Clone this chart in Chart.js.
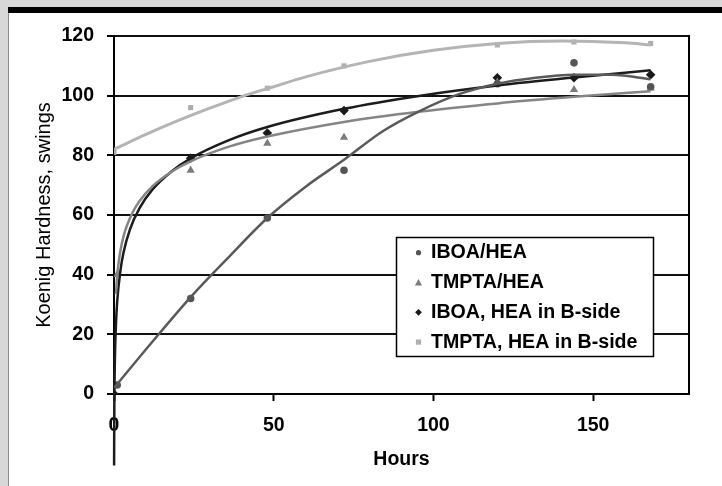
<!DOCTYPE html>
<html><head><meta charset="utf-8">
<script src="https://cdn.jsdelivr.net/npm/chart.js@4/dist/chart.umd.min.js"></script>
<style>html,body{margin:0;padding:0;background:#d8d8d8;overflow:hidden}canvas{display:block}</style>
</head><body>
<canvas id="c" width="722" height="486"></canvas>
<script>
// ---- data ----
const xTicks = [0, 50, 100, 150];
const xTitle = 'Hours';
const yTitle = 'Koenig Hardness, swings';
const seriesLabels = ['IBOA/HEA', 'TMPTA/HEA', 'IBOA, HEA in B-side', 'TMPTA, HEA in B-side'];

// measured points
const iboaHours = [1, 24, 48, 72, 120, 144, 168];
const iboaHardness = [3, 32, 59, 75, 104, 111, 103];
const tmptaHours = [1, 24, 48, 72, 120, 144, 168];
const tmptaHardness = [40, 75, 84, 86, 104.5, 102, 102.5];
const iboaBHours = [0, 24, 48, 72, 120, 144, 168];
const iboaBHardness = [0, 79, 87.5, 95, 106, 106, 107];
const tmptaBHours = [0, 24, 48, 72, 120, 144, 168];
const tmptaBHardness = [81, 96, 102.5, 110, 117, 118, 117.5];

// trend lines, values
const iboaTrendHours = [0, 12, 24, 36, 48, 60, 72, 84, 96, 108, 120, 132, 144, 156, 168];
const iboaTrendHardness = [2, 17.5, 32.5, 46, 59, 69.5, 78.5, 88, 95, 100.5, 104, 106, 107, 107, 105.5];
const tmptaTrendHours = [0.6, 1, 1.5, 2, 3, 4, 6, 8, 12, 18, 24, 36, 48, 72, 96, 120, 144, 168];
const tmptaTrendHardness = [33.5, 39.6, 44.5, 48, 52.9, 56.3, 61.2, 64.7, 69.6, 74.5, 78, 82.9, 86.3, 91.2, 94.7, 97.4, 99.6, 101.5];
const iboaBTrendHours = [0.03, 0.1, 0.3, 0.6, 1, 2, 3, 5, 8, 12, 18, 24, 36, 48, 72, 96, 120, 144, 168];
const iboaBTrendHardness = [-24, -4, 12.5, 23, 31, 41.3, 47.5, 55.2, 62.3, 68.5, 74.6, 79, 85.1, 89.5, 95.6, 100, 103.4, 106.1, 108.5];
const tmptaBTrendHours = [0, 10, 20, 30, 40, 50, 60, 80, 100, 120, 140, 160, 168];
const tmptaBTrendHardness = [82, 87, 91.6, 95.8, 99.7, 103, 106.3, 111.5, 115.2, 117.5, 118.3, 117.7, 117];

// ---- styling ----
const FONT = "'Liberation Sans', Arial, sans-serif";
const colors = ['#555555', '#7c7c7c', '#1a1a1a', '#adadad'];
const shapes = ['circle', 'triangle', 'rectRot', 'rect'];
const radii = [3.8, 4.8, 4.8, 3.6];

const pts = (xs, ys) => xs.map((x, i) => ({x: x, y: ys[i]}));

const markerSets = [
  [iboaHours, iboaHardness], [tmptaHours, tmptaHardness],
  [iboaBHours, iboaBHardness], [tmptaBHours, tmptaBHardness]
].map(([xs, ys], i) => ({
  label: seriesLabels[i],
  data: pts(xs, ys),
  showLine: false,
  pointStyle: shapes[i],
  pointRadius: radii[i],
  pointBackgroundColor: colors[i],
  pointBorderWidth: 0,
  order: 1
}));

const trendSets = [
  [iboaTrendHours, iboaTrendHardness, '#5a5a5a', 2.5, true],
  [tmptaTrendHours, tmptaTrendHardness, '#858585', 2.5, true],
  [iboaBTrendHours, iboaBTrendHardness, '#1c1c1c', 2.5, false],
  [tmptaBTrendHours, tmptaBTrendHardness, '#b4b4b4', 3, true]
].map(([xs, ys, c, w, clip], i) => ({
  label: seriesLabels[i] + ' trend',
  data: pts(xs, ys),
  showLine: true,
  pointRadius: 0,
  borderColor: c,
  borderWidth: w,
  cubicInterpolationMode: 'monotone',
  clip: clip ? undefined : false,
  order: 0
}));

const framePlugin = {
  id: 'frame',
  beforeDraw(chart) {
    const ctx = chart.ctx;
    ctx.save();
    ctx.fillStyle = '#d8d8d8';
    ctx.fillRect(0, 0, chart.width, chart.height);
    ctx.fillStyle = '#ffffff';
    ctx.fillRect(8, 13, chart.width - 8, chart.height - 13);
    ctx.fillStyle = '#000000';
    ctx.fillRect(8, 7, chart.width - 8, 6);
    ctx.fillStyle = '#8a8a8a';
    ctx.fillRect(8, 13, 1, chart.height - 13);
    ctx.restore();
  },
  beforeDatasetsDraw(chart) {
    const a = chart.chartArea, ctx = chart.ctx;
    ctx.save();
    ctx.strokeStyle = '#000';
    ctx.lineWidth = 2;
    ctx.beginPath();
    ctx.moveTo(Math.round(a.right), a.top - 1);
    ctx.lineTo(Math.round(a.right), a.bottom + 1);
    ctx.stroke();
    ctx.restore();
  }
};

function drawMarker(ctx, shape, x, y, r) {
  ctx.beginPath();
  if (shape === 'circle') {
    ctx.arc(x, y, r, 0, Math.PI * 2);
  } else if (shape === 'triangle') {
    ctx.moveTo(x, y - r);
    ctx.lineTo(x + r, y + r * 0.8);
    ctx.lineTo(x - r, y + r * 0.8);
    ctx.closePath();
  } else if (shape === 'rectRot') {
    ctx.moveTo(x, y - r); ctx.lineTo(x + r, y); ctx.lineTo(x, y + r); ctx.lineTo(x - r, y);
    ctx.closePath();
  } else {
    ctx.rect(x - r, y - r, 2 * r, 2 * r);
  }
  ctx.fill();
}

const legendPlugin = {
  id: 'boxLegend',
  afterDraw(chart) {
    const ctx = chart.ctx;
    ctx.save();
    ctx.fillStyle = '#fff';
    ctx.fillRect(396.5, 237.5, 257, 119);
    ctx.strokeStyle = '#000';
    ctx.lineWidth = 1.5;
    ctx.strokeRect(396.5, 237.5, 257, 119);
    const lr = [2.6, 3.6, 3.4, 2.6];
    seriesLabels.forEach((t, i) => {
      const y = 252.7 + i * 29.8;
      ctx.fillStyle = colors[i];
      drawMarker(ctx, shapes[i], 418.5, y, lr[i]);
      ctx.fillStyle = '#000';
      ctx.font = 'bold 19.6px ' + FONT;
      ctx.textBaseline = 'middle';
      ctx.textAlign = 'left';
      ctx.fillText(t, 431, y);
    });
    ctx.restore();
  }
};

new Chart(document.getElementById('c'), {
  type: 'scatter',
  data: {datasets: trendSets.concat(markerSets)},
  plugins: [framePlugin, legendPlugin],
  options: {
    responsive: false,
    devicePixelRatio: 1,
    animation: false,
    events: [],
    layout: {padding: {top: 36, right: 33, left: 0, bottom: 0}},
    plugins: {legend: {display: false}, tooltip: {enabled: false}, title: {display: false}},
    scales: {
      x: {
        type: 'linear', min: 0, max: 180,
        afterBuildTicks: s => { s.ticks = xTicks.map(v => ({value: v})); },
        afterFit: s => { s.height = 92; },
        grid: {drawOnChartArea: false, drawTicks: true, tickLength: 7, tickColor: '#000', tickWidth: 2},
        border: {display: true, color: '#000', width: 2},
        ticks: {color: '#000', font: {family: FONT, size: 19.5, weight: 'bold'}, padding: 13, maxRotation: 0},
        title: {display: true, text: xTitle, color: '#000', font: {family: FONT, size: 19.5, weight: 'bold'}, padding: {top: 0, bottom: 15}}
      },
      y: {
        type: 'linear', min: 0, max: 120,
        afterFit: s => { s.width = 114; },
        ticks: {stepSize: 20, color: '#000', font: {family: FONT, size: 19.5, weight: 'bold'}, padding: 13},
        grid: {color: '#111', lineWidth: 2, tickLength: 7, tickColor: '#000', tickWidth: 2},
        border: {display: true, color: '#000', width: 2},
        title: {display: true, text: yTitle, color: '#000', font: {family: FONT, size: 20, weight: 'normal'}, padding: {top: 32, bottom: 0}}
      }
    }
  }
});
</script>
</body></html>
